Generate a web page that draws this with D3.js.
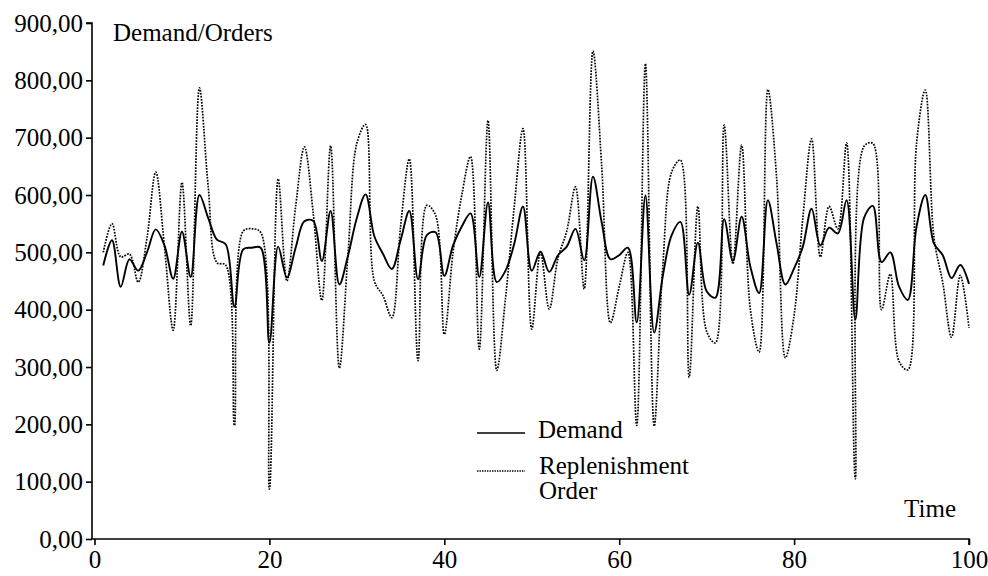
<!DOCTYPE html>
<html>
<head>
<meta charset="utf-8">
<script src="https://cdn.jsdelivr.net/npm/d3@7"></script>
<style>
  html, body { margin: 0; padding: 0; background: #fff; }
  svg { display: block; }
  text { font-family: "Liberation Serif", "DejaVu Serif", serif; fill: #000; }
</style>
</head>
<body>
<svg id="chart" width="988" height="576"></svg>
<script>
const time = d3.range(1, 101);
const demand = [
  477, 521, 440, 488, 468, 500, 540, 512, 454, 536,
  457, 600, 560, 522, 514, 405, 505, 508, 508, 342,
  510, 456, 508, 554, 555, 485, 572, 444, 495, 560,
  601, 528, 497, 471, 521, 572, 453, 530, 535, 459,
  512, 545, 568, 457, 587, 448, 468, 515, 580, 468,
  501, 466, 495, 510, 541, 486, 632, 552, 488, 495,
  508, 378, 599, 360, 460, 530, 553, 426, 517, 432,
  421, 558, 485, 562, 475, 429, 591, 515, 444, 472,
  510, 576, 512, 543, 533, 591, 383, 560, 581, 483,
  500, 440, 417, 545, 600, 515, 495, 455, 478, 445
];
const replenishment = [
  500, 550, 492, 497, 448, 525, 640, 510, 364, 622,
  372, 787, 615, 482, 478, 198, 537, 541, 535, 87,
  628, 450, 580, 684, 570, 416, 686, 298, 500, 690,
  723, 450, 424, 386, 545, 663, 311, 582, 565, 357,
  500, 600, 667, 331, 730, 294, 420, 580, 716, 366,
  500, 401, 490, 537, 614, 436, 851, 650, 377, 440,
  500, 198, 829, 197, 480, 640, 661, 282, 580, 362,
  342, 722, 480, 687, 400, 326, 784, 630, 316, 390,
  560, 698, 492, 580, 541, 691, 105, 685, 690, 400,
  462, 310, 295, 690, 783, 525, 447, 352, 460, 368
];
const xTicks = [0, 20, 40, 60, 80, 100];
const yTicks = [0, 100, 200, 300, 400, 500, 600, 700, 800, 900];
const yTickLabels = ["0,00", "100,00", "200,00", "300,00", "400,00", "500,00", "600,00", "700,00", "800,00", "900,00"];
const legendLabels = ["Demand", ["Replenishment", "Order"]];

const svg = d3.select("#chart");
const axisX = 92;
const fs = 25;
const x = d3.scaleLinear().domain([0, 100]).range([94.5, 969]);
const y = d3.scaleLinear().domain([0, 900]).range([539, 23]);

// y axis
const gy = svg.append("g").attr("transform", `translate(${axisX},0)`)
  .call(d3.axisLeft(y).tickValues(yTicks).tickSize(6).tickPadding(3)
    .tickFormat((d, i) => yTickLabels[i]));
gy.select(".domain").attr("d", `M-6,${y(900)}H0V${y(0)}`);
// x axis
const gx = svg.append("g").attr("transform", `translate(0,${y(0)})`)
  .call(d3.axisBottom(x).tickValues(xTicks).tickSize(6).tickPadding(5).tickFormat(d3.format("d")));
gx.select(".domain").attr("d", `M${axisX},0H${x(100)}V6`);

[gx, gy].forEach(g => {
  g.selectAll("path, line").attr("stroke", "#000").attr("stroke-width", 1.6);
  g.selectAll("text").attr("font-family", "Liberation Serif, serif").attr("font-size", fs).attr("fill", "#000");
});

const line = d3.line().curve(d3.curveCatmullRom.alpha(0.5))
  .x((d, i) => x(time[i])).y(d => y(d));

svg.append("path").datum(replenishment)
  .attr("fill", "none").attr("stroke", "#000").attr("stroke-width", 1.7)
  .attr("stroke-dasharray", "1.7,1.3").attr("d", line);
svg.append("path").datum(demand)
  .attr("fill", "none").attr("stroke", "#000").attr("stroke-width", 1.9).attr("d", line);

// titles
svg.append("text").attr("x", 113).attr("y", 41).attr("font-size", fs).text("Demand/Orders");
svg.append("text").attr("x", 956).attr("y", 517).attr("text-anchor", "end").attr("font-size", fs).text("Time");

// legend
const lg = svg.append("g");
lg.append("line").attr("x1", 477).attr("x2", 525).attr("y1", 433).attr("y2", 433)
  .attr("stroke", "#000").attr("stroke-width", 1.6);
lg.append("text").attr("x", 538).attr("y", 438).attr("font-size", fs).text(legendLabels[0]);
lg.append("line").attr("x1", 477).attr("x2", 525).attr("y1", 471).attr("y2", 471)
  .attr("stroke", "#000").attr("stroke-width", 1.4).attr("stroke-dasharray", "1.4,1.1");
lg.append("text").attr("x", 539).attr("y", 474).attr("font-size", fs).text(legendLabels[1][0]);
lg.append("text").attr("x", 539).attr("y", 499).attr("font-size", fs).text(legendLabels[1][1]);
</script>
</body>
</html>
